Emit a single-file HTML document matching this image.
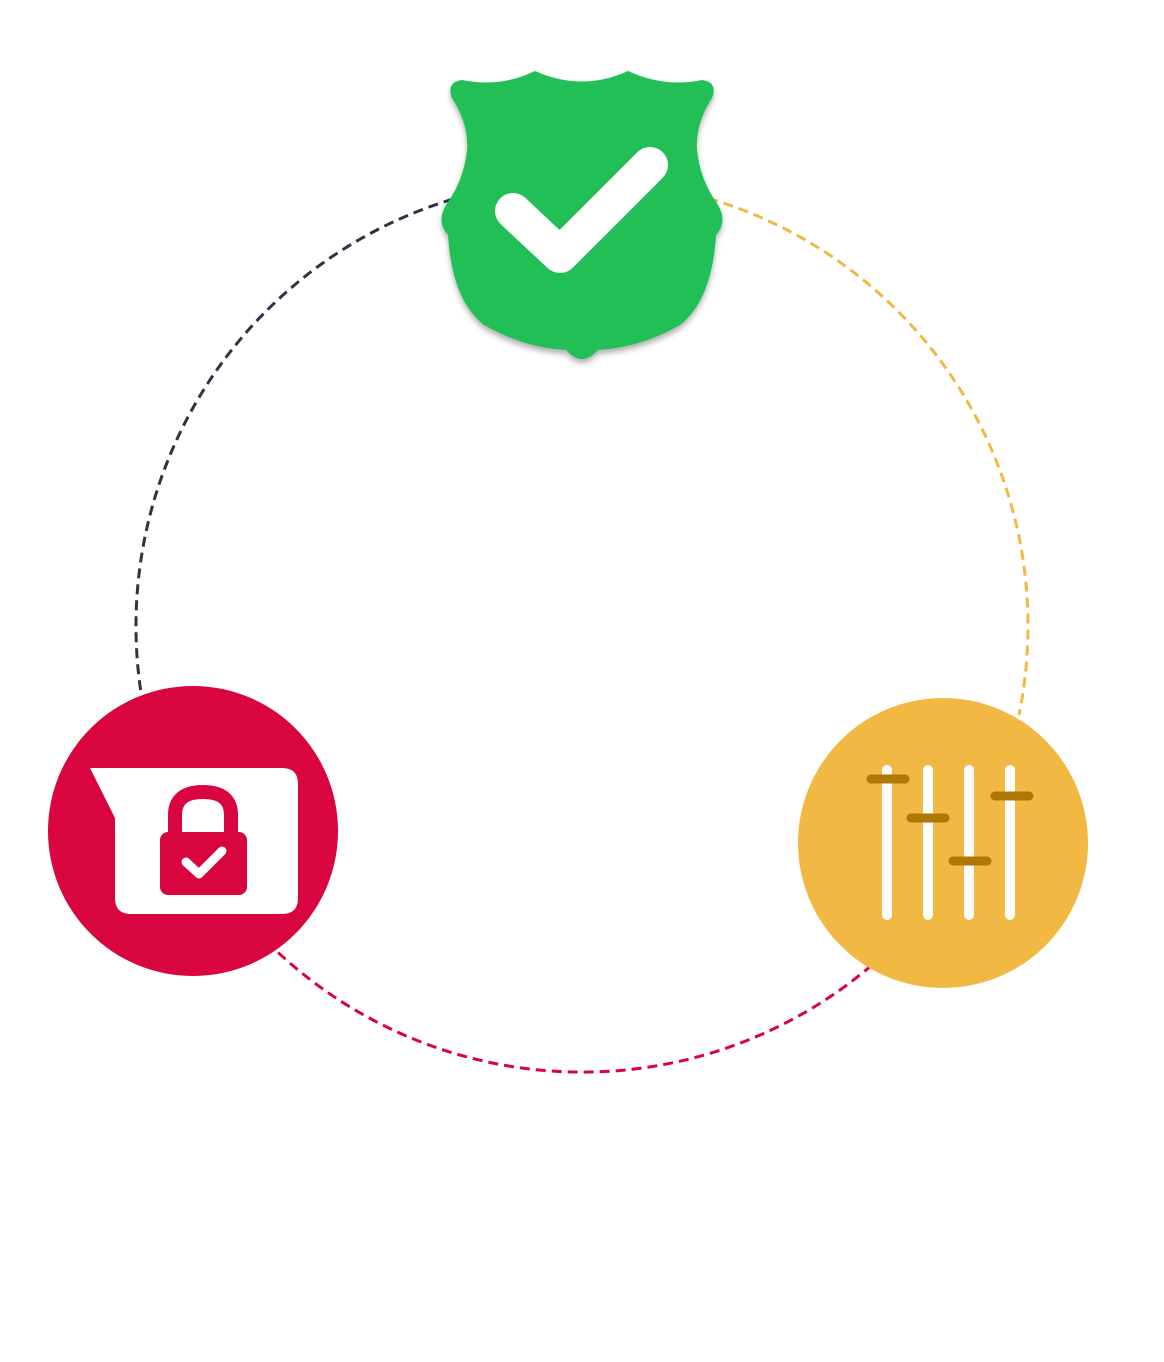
<!DOCTYPE html>
<html><head><style>html,body{margin:0;padding:0;background:#fff}</style></head>
<body>
<svg width="1164" height="1357" viewBox="0 0 1164 1357" xmlns="http://www.w3.org/2000/svg">
<defs><filter id="sh" x="-20%" y="-20%" width="140%" height="140%"><feDropShadow dx="0" dy="4" stdDeviation="3" flood-color="#000" flood-opacity="0.3"/></filter></defs>
<g fill="none" stroke-width="3" stroke-dasharray="10 6">
<path d="M140.6 690 A446 446 0 0 1 582 180" stroke="#2f3445"/>
<path d="M582 180 A446 446 0 0 1 1019 715" stroke="#f1b944"/>
<path d="M872 965 A446 446 0 0 1 275.5 950" stroke="#d8053f"/>
</g>
<path filter="url(#sh)" fill="#21bf57" d="M462 80 Q500 88 535 71 Q582 92 628 71 Q665 88 702 80 Q718 82 712 98 Q695 125 697 150 Q700 180 718 205 Q728 222 716 235 Q712 300 680 325 Q640 348 598 350 Q582 368 566 350 Q524 348 484 325 Q452 300 448 235 Q436 222 446 205 Q464 180 467 150 Q469 125 452 98 Q446 82 462 80 Z"/>
<path d="M513 211 L560 255 L650 165" fill="none" stroke="#fff" stroke-width="36" stroke-linecap="round" stroke-linejoin="round"/>
<circle cx="193" cy="831" r="145" fill="#d8053f"/>
<path fill="#fff" d="M90 768 L282 768 Q298 768 298 784 L298 898 Q298 914 282 914 L131 914 Q115 914 115 898 L115 818 Z"/>
<path d="M175 832 L175 815 Q175 792 203 792 Q231 792 231 815 L231 832" fill="none" stroke="#d8053f" stroke-width="14"/>
<rect x="160" y="832" width="87" height="63" rx="8" fill="#d8053f"/>
<path d="M186 862 L199 874 L222 851" fill="none" stroke="#fff" stroke-width="9" stroke-linecap="round" stroke-linejoin="round"/>
<circle cx="943" cy="843" r="145" fill="#f1b944"/>
<g stroke="#fff" stroke-width="10" stroke-linecap="round">
<line x1="887" y1="770" x2="887" y2="915"/><line x1="928" y1="770" x2="928" y2="915"/><line x1="969" y1="770" x2="969" y2="915"/><line x1="1010" y1="770" x2="1010" y2="915"/>
</g>
<g stroke="#b07800" stroke-width="9" stroke-linecap="round">
<line x1="871" y1="779" x2="905" y2="779"/><line x1="911" y1="818" x2="945" y2="818"/><line x1="953" y1="861" x2="987" y2="861"/><line x1="995" y1="796" x2="1029" y2="796"/>
</g>
</svg>
</body></html>
